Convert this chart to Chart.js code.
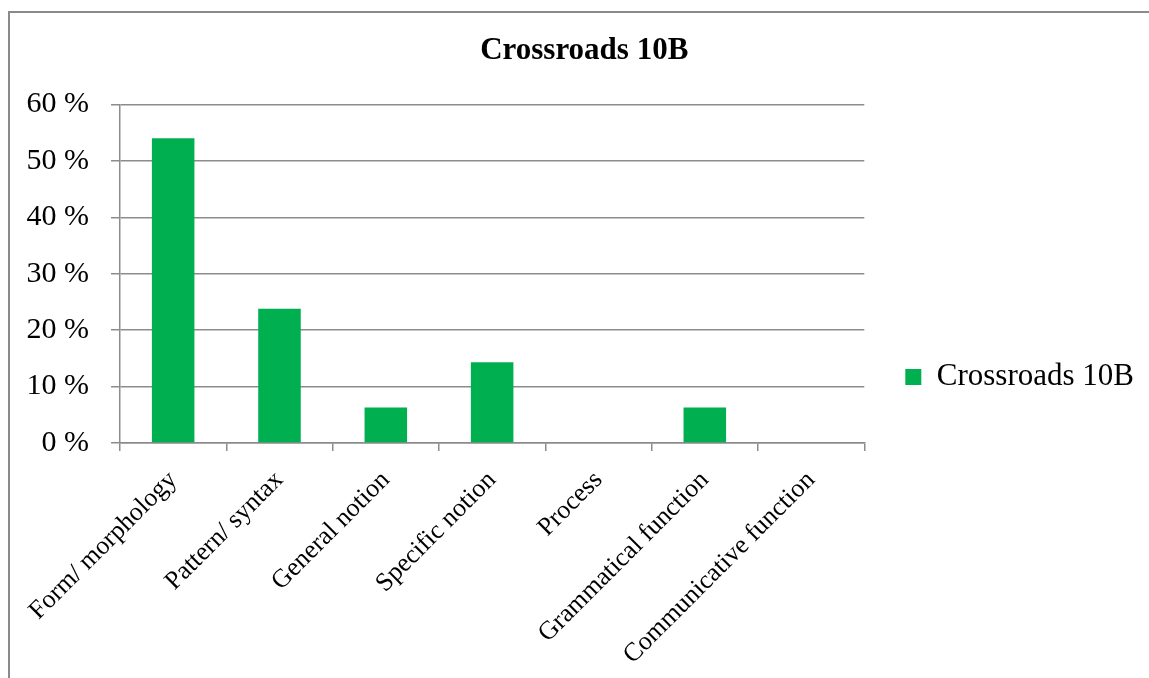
<!DOCTYPE html>
<html>
<head>
<meta charset="utf-8">
<script src="https://cdn.jsdelivr.net/npm/chart.js@4/dist/chart.umd.min.js"></script>
<style>
  html, body { margin: 0; padding: 0; background: #fff; overflow: hidden; }
  #wrap { position: relative; width: 1149px; height: 678px; }
  #frame {
    position: absolute; left: 8px; top: 11px; right: -5px; bottom: -5px;
    border-top: 2px solid #8a8a8a; border-left: 2px solid #8a8a8a;
    pointer-events: none;
  }
</style>
</head>
<body>
<div id="wrap">
  <canvas id="myChart" width="1149" height="678"></canvas>
  <div id="frame"></div>
</div>
<script>
const ctx = document.getElementById("myChart").getContext("2d");

const labels = [
    "Form/ morphology",
    "Pattern/ syntax",
    "General notion",
    "Specific notion",
    "Process",
    "Grammatical function",
    "Communicative function",
];

const values = [54.0, 23.8, 6.3, 14.3, 0, 6.3, 0];

const yTicks = [0, 10, 20, 30, 40, 50, 60];

const serif = "'Liberation Serif', 'Times New Roman', serif";
const gridColor = '#8c8c8c';

const data = {
    labels,
    datasets: [{
        data: values,
        label: "Crossroads 10B",
        backgroundColor: '#00b050',
        barPercentage: 0.4,
        categoryPercentage: 1.0,
    }],
};

// nudge the title a little to the right, it sits off-centre in the original
const titleShift = {
    id: 'titleShift',
    afterLayout(chart) {
        chart.titleBlock.left += 10;
        chart.titleBlock.right += 10;
    }
};

const config = {
    type: 'bar',
    data: data,
    plugins: [titleShift],
    options: {
        responsive: false,
        animation: false,
        layout: {
            padding: { left: 4.5, right: 5, top: 0, bottom: 8.6 }
        },
        scales: {
            x: {
                // let the rotated first label run under the y labels, like the original
                afterFit: (axis) => {
                    axis.paddingLeft = 0;
                    axis.paddingRight = 0;
                    axis.height -= 15;
                },
                grid: {
                    offset: true,
                    drawOnChartArea: false,
                    drawTicks: true,
                    tickLength: 8,
                    color: gridColor,
                    lineWidth: 1.5,
                },
                border: { color: gridColor, width: 1.5 },
                ticks: {
                    color: '#000',
                    font: { family: serif, size: 26 },
                    minRotation: 45,
                    maxRotation: 45,
                    padding: 14,
                    autoSkip: false,
                },
            },
            y: {
                min: yTicks[0],
                max: yTicks[yTicks.length - 1],
                afterBuildTicks: (axis) => {
                    axis.ticks = yTicks.map(v => ({ value: v }));
                },
                grid: {
                    color: gridColor,
                    lineWidth: 1.5,
                    tickLength: 9,
                },
                border: { color: gridColor, width: 1.5 },
                ticks: {
                    color: '#000',
                    font: { family: serif, size: 30 },
                    padding: 22,
                    callback: (v) => v + ' %',
                },
            },
        },
        plugins: {
            title: {
                display: true,
                text: "Crossroads 10B",
                color: '#000',
                font: { family: serif, size: 31, weight: 'bold' },
                padding: { top: 32, bottom: 35.3 },
            },
            legend: {
                position: 'right',
                title: {
                    display: true,
                    text: ' ',
                    font: { size: 10 },
                    padding: { top: 72.5, bottom: 0 },
                },
                labels: {
                    color: '#000',
                    font: { family: serif, size: 31 },
                    boxWidth: 16,
                    boxHeight: 16,
                    padding: 41,
                },
            },
            tooltip: { enabled: false },
        },
    },
};

const myChart = new Chart(ctx, config);
</script>
</body>
</html>
